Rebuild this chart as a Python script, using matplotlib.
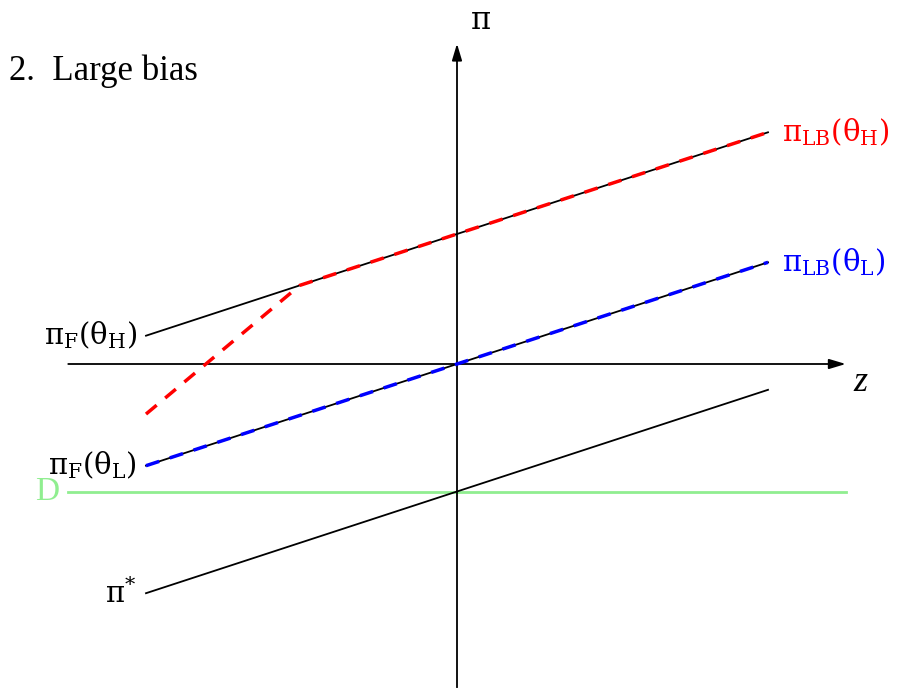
import matplotlib
matplotlib.use("Agg")
import matplotlib.pyplot as plt
import numpy as np

plt.rcParams['mathtext.fontset'] = 'custom'
plt.rcParams['mathtext.rm'] = 'DejaVu Serif'
plt.rcParams['mathtext.it'] = 'DejaVu Serif:italic'
plt.rcParams['font.family'] = ['Liberation Serif', 'DejaVu Serif']

# Linear profit schedules pi = intercept + slope * z on z in [-1, 1]
slope = 0.327
z_range = [-1.0, 1.0]
intercept_H = 0.418    # pi_F(theta_H)
intercept_L = 0.0      # pi_F(theta_L)
intercept_star = -0.41 # pi*
level_D = -0.41        # D

# Large-bias schedule for the high type: steep segment then joins pi_F(theta_H)
lb_H_z = [-1.0, -0.505, 1.0]
lb_H_pi = [-0.161, 0.253, 0.745]

# Axis extents
z_axis = [-1.25, 1.25]
pi_axis = [-1.04, 1.03]

fig = plt.figure(figsize=(9.04, 6.88), dpi=100)
ax = fig.add_axes([0, 0, 1, 1])
ax.set_xlim(-457 / 311, (904 - 457) / 311)
ax.set_ylim(-324 / 311, 364 / 311)
ax.axis('off')

z = np.array(z_range)

# Coordinate axes with arrow heads
arrow = dict(arrowstyle='-|>,head_length=1.0,head_width=0.3', color='black', lw=1.3,
             shrinkA=0, shrinkB=0)
ax.annotate('', xy=(z_axis[1], 0), xytext=(z_axis[0], 0), arrowprops=arrow)
ax.annotate('', xy=(0, pi_axis[1]), xytext=(0, pi_axis[0]), arrowprops=arrow)

# D level
ax.plot(z_axis, [level_D, level_D], color='#90ee90', lw=2, zorder=2)

# Full-information schedules
ax.plot(z, intercept_H + slope * z, color='black', lw=1.3, zorder=3)
ax.plot(z, intercept_L + slope * z, color='black', lw=1.3, zorder=3)
ax.plot(z, intercept_star + slope * z, color='black', lw=1.3, zorder=3)

# Large-bias schedules
ax.plot(lb_H_z, lb_H_pi, color='red', lw=2.5, ls=(0, (4, 3.2)), zorder=4)
ax.plot(z, intercept_L + slope * z, color='blue', lw=2.5, ls=(0, (4, 3.2)), zorder=4)

fs = 21
gap = 0.03
ax.text(z[0] - gap, intercept_H + slope * z[0], r'$\mathrm{π}_\mathrm{F}(\mathrm{θ}_\mathrm{H})$',
        ha='right', va='center', fontsize=fs)
ax.text(z[0] - gap, intercept_L + slope * z[0], r'$\mathrm{π}_\mathrm{F}(\mathrm{θ}_\mathrm{L})$',
        ha='right', va='center', fontsize=fs)
ax.text(z[0] - gap, intercept_star + slope * z[0], r'$\mathrm{π}^{*}$',
        ha='right', va='center', fontsize=fs)
ax.text(z_axis[0] - 0.03, level_D, 'D', ha='right', va='center', fontsize=fs + 3,
        color='#90ee90')
ax.text(z[1] + 0.045, lb_H_pi[-1], r'$\mathrm{π}_\mathrm{LB}(\mathrm{θ}_\mathrm{H})$',
        ha='left', va='center', fontsize=fs, color='red')
ax.text(z[1] + 0.045, intercept_L + slope * z[1], r'$\mathrm{π}_\mathrm{LB}(\mathrm{θ}_\mathrm{L})$',
        ha='left', va='center', fontsize=fs, color='blue')
ax.text(z_axis[1] + 0.025, -0.06, 'z', ha='left', va='center', fontsize=fs + 5,
        fontstyle='italic')
ax.text(0.075, 1.10, r'$\mathrm{π}$', ha='center', va='center', fontsize=fs + 1)
ax.text(-1.44, 0.94, '2.  Large bias', ha='left', va='center', fontsize=25)

fig.savefig('out.png', dpi=100)
